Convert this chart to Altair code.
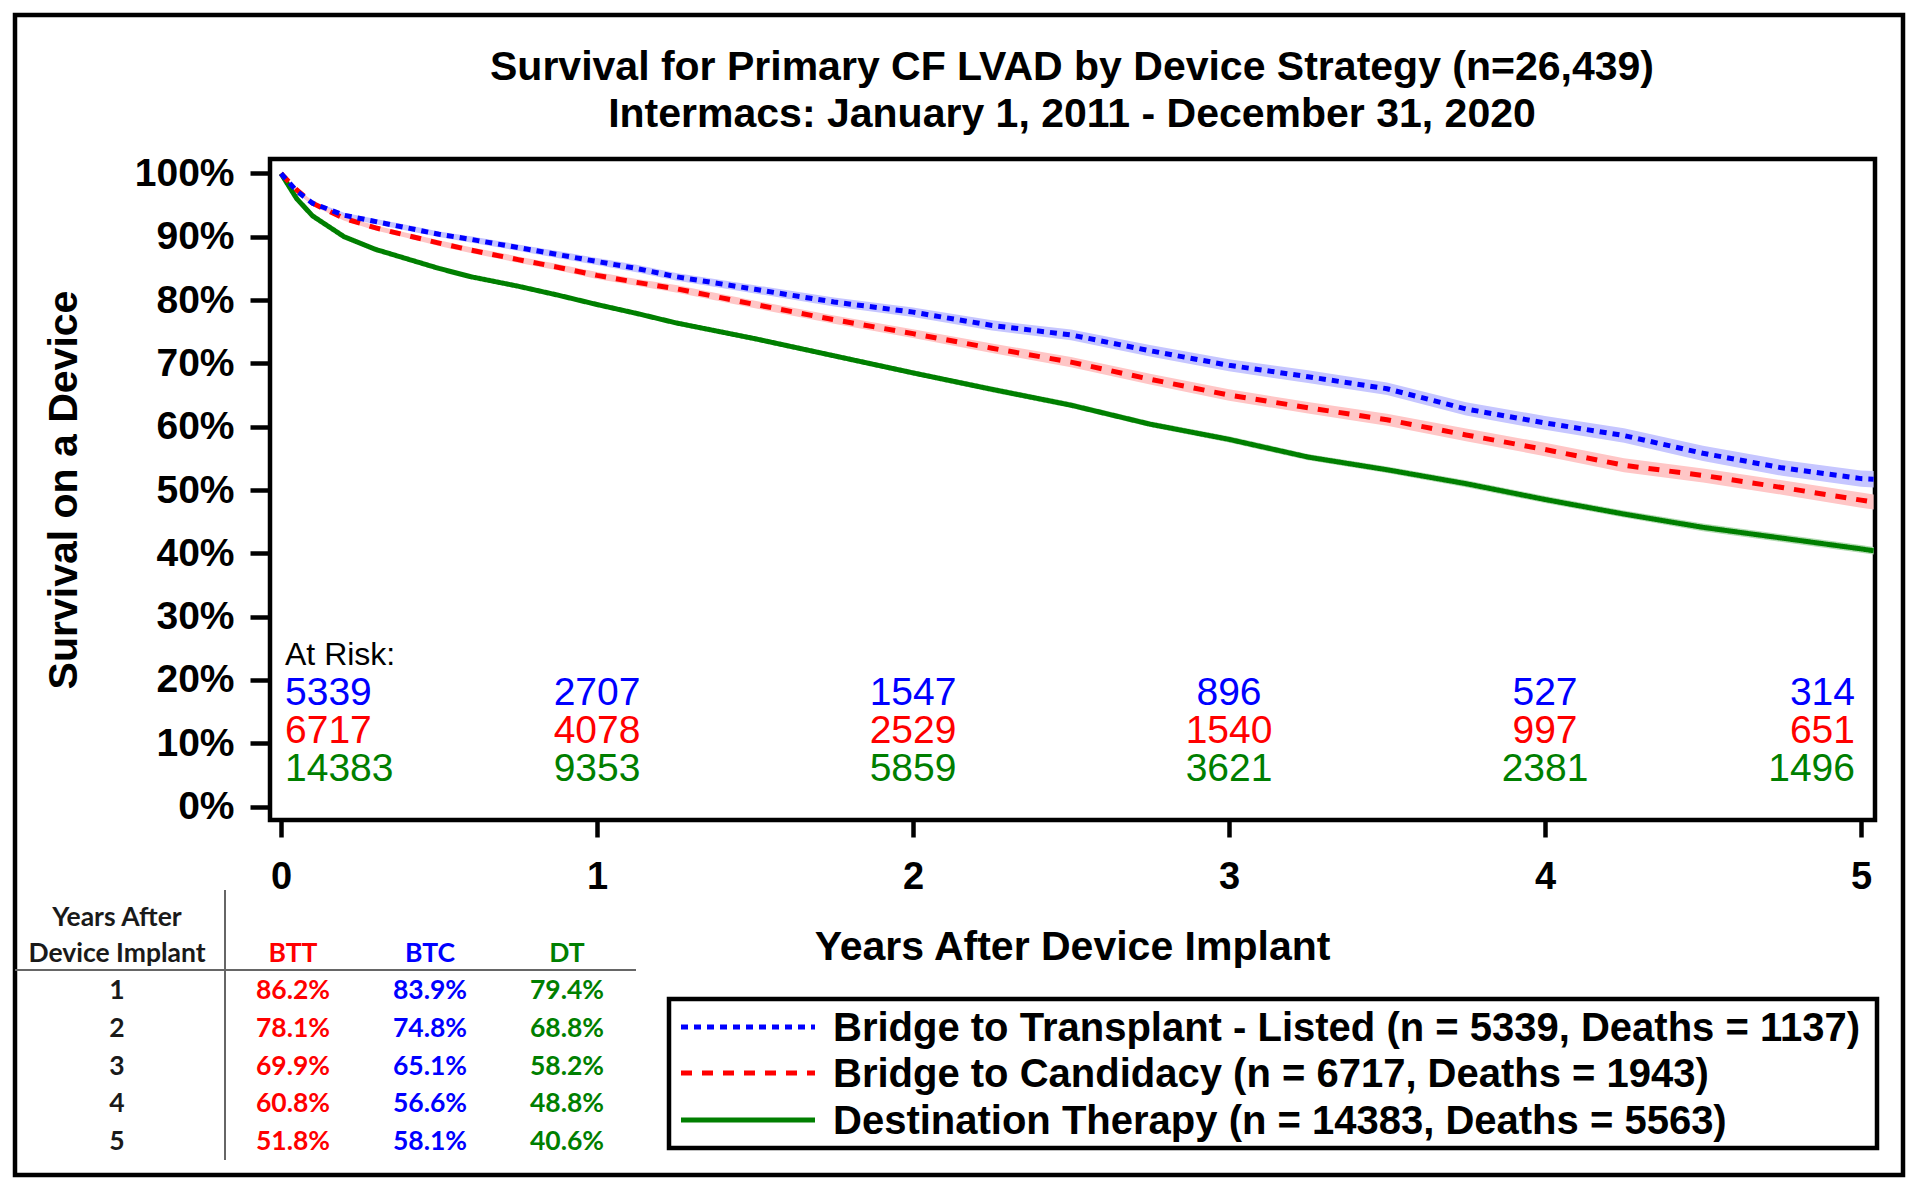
import altair as alt
import pandas as pd

# ---------------- data ----------------
series_names = ["BTT", "BTC", "DT"]
legend_labels = [
    "Bridge to Transplant - Listed (n = 5339, Deaths = 1137)",
    "Bridge to Candidacy (n = 6717, Deaths = 1943)",
    "Destination Therapy (n = 14383, Deaths = 5563)",
]
line_colors = ["#0000FF", "#FF0000", "#007F00"]
band_colors = ["#C6C6FF", "#FFC6C6", "#B3DBB3"]
line_dashes = [[7, 6], [11, 10], [1, 0]]

years = [0, 0.05, 0.1, 0.2, 0.3, 0.4, 0.5, 0.6, 0.75, 0.875, 1.0, 1.125, 1.25, 1.5,
         1.75, 2.0, 2.25, 2.5, 2.75, 3.0, 3.25, 3.5, 3.75, 4.0, 4.25, 4.5, 4.75, 5.0, 5.04]
surv_btt = [100, 97.2, 95.3, 93.4, 92.4, 91.4, 90.4, 89.6, 88.3, 87.2, 86.1, 85.0, 83.7, 81.7,
            79.7, 78.1, 76.0, 74.5, 72.0, 69.7, 67.9, 66.0, 62.8, 60.6, 58.6, 55.8, 53.5, 51.8, 51.7]
surv_btc = [100, 97.4, 95.3, 92.9, 91.4, 90.2, 89.0, 87.9, 86.4, 85.2, 83.9, 82.8, 81.8, 79.3,
            76.9, 74.7, 72.4, 70.2, 67.5, 65.0, 63.0, 61.1, 58.7, 56.4, 53.9, 52.3, 50.4, 48.4, 48.1]
surv_dt = [100, 96.0, 93.3, 90.0, 88.0, 86.5, 85.0, 83.7, 82.2, 80.8, 79.3, 77.9, 76.4, 73.9,
           71.2, 68.5, 65.9, 63.4, 60.4, 58.0, 55.2, 53.2, 51.0, 48.5, 46.2, 44.1, 42.4, 40.7, 40.4]
ci_btt = [0, 0.3, 0.35, 0.4, 0.4, 0.45, 0.45, 0.5, 0.5, 0.55, 0.55, 0.6, 0.6, 0.65, 0.7,
          0.75, 0.8, 0.85, 0.9, 0.95, 1.0, 1.0, 1.05, 1.1, 1.15, 1.2, 1.25, 1.3, 1.3]
ci_btc = [0, 0.3, 0.35, 0.35, 0.4, 0.4, 0.45, 0.45, 0.5, 0.5, 0.55, 0.55, 0.6, 0.6, 0.65,
          0.7, 0.75, 0.8, 0.85, 0.9, 0.9, 0.95, 1.0, 1.05, 1.1, 1.1, 1.15, 1.2, 1.2]
ci_dt = [0, 0.2, 0.2, 0.25, 0.25, 0.25, 0.3, 0.3, 0.3, 0.3, 0.35, 0.35, 0.35, 0.4, 0.4,
         0.4, 0.45, 0.45, 0.45, 0.5, 0.5, 0.5, 0.55, 0.55, 0.55, 0.6, 0.6, 0.6, 0.6]

risk_years = [0, 1, 2, 3, 4, 5]
risk_btt = [5339, 2707, 1547, 896, 527, 314]
risk_btc = [6717, 4078, 2529, 1540, 997, 651]
risk_dt = [14383, 9353, 5859, 3621, 2381, 1496]

table_years = ["1", "2", "3", "4", "5"]
table_heads = ["BTT", "BTC", "DT"]
table_head_colors = ["#FF0000", "#0000FF", "#007F00"]
table_btt = ["86.2%", "78.1%", "69.9%", "60.8%", "51.8%"]
table_btc = ["83.9%", "74.8%", "65.1%", "56.6%", "58.1%"]
table_dt = ["79.4%", "68.8%", "58.2%", "48.8%", "40.6%"]
table_stub = ["Years After", "Device Implant"]

title_lines = ["Survival for Primary CF LVAD by Device Strategy (n=26,439)",
               "Intermacs: January 1, 2011 - December 31, 2020"]
x_title = "Years After Device Implant"
y_title = "Survival on a Device"
at_risk_label = "At Risk:"

# ---------------- layout (page pixels) ----------------
W, H = 1605, 661
PLOT_L, PLOT_T = 270, 159
PAD = {"left": PLOT_L - 8, "top": PLOT_T - 8, "right": 34, "bottom": 358}
X0, XS = 281.0, 316.0      # page x of year 0, px per year
Y0, YS = 806.5, 6.33       # page y of 0 %, px per %
ARIAL = "Liberation Sans"
CALIBRI = "Lato"


def ux(px):
    return (px - X0) / XS


def uy(py):
    return (Y0 - py) / YS


def vx(px):
    return px - PLOT_L


def vy(py):
    return py - PLOT_T


xs = alt.Scale(domain=[ux(PLOT_L), ux(PLOT_L + W)], nice=False, zero=False)
ys = alt.Scale(domain=[uy(PLOT_T + H), uy(PLOT_T)], nice=False, zero=False)
stroke_scale = alt.Scale(domain=series_names, range=line_colors)
dash_scale = alt.Scale(domain=series_names, range=line_dashes)

# ---------------- tables ----------------
rows = []
for name, s, ci, bc in zip(series_names, [surv_btt, surv_btc, surv_dt],
                           [ci_btt, ci_btc, ci_dt], band_colors):
    for t, v, c in zip(years, s, ci):
        rows.append({"series": name, "t": t, "s": v, "lo": v - c, "hi": v + c, "band": bc})
curves = pd.DataFrame(rows)

risk_rows = []
risk_base = [705, 743, 781]
for i, (vals, col) in enumerate(zip([risk_btt, risk_btc, risk_dt], line_colors)):
    for t, n in zip(risk_years, vals):
        risk_rows.append({"t": t, "yv": uy(risk_base[i]), "label": str(n), "color": col})
risk = pd.DataFrame(risk_rows)

tab_rows = []
col_x = [117, 293, 430, 567]
row_base = [999, 1037, 1075, 1112, 1150]
tab_rows.append({"x": ux(col_x[0]), "y": uy(926), "label": table_stub[0], "color": "#1a1a1a"})
tab_rows.append({"x": ux(col_x[0]), "y": uy(962), "label": table_stub[1], "color": "#1a1a1a"})
for j, (h, c) in enumerate(zip(table_heads, table_head_colors)):
    tab_rows.append({"x": ux(col_x[j + 1]), "y": uy(962), "label": h, "color": c})
for i, yr in enumerate(table_years):
    tab_rows.append({"x": ux(col_x[0]), "y": uy(row_base[i]), "label": yr, "color": "#1a1a1a"})
    for j, (vals, c) in enumerate(zip([table_btt, table_btc, table_dt], table_head_colors)):
        tab_rows.append({"x": ux(col_x[j + 1]), "y": uy(row_base[i]), "label": vals[i], "color": c})
table = pd.DataFrame(tab_rows)

leg_sym_y = [1027, 1073, 1120]
leg_txt_y = [1041, 1087, 1134]
legend = pd.DataFrame({
    "series": series_names,
    "label": legend_labels,
    "ys": [uy(v) for v in leg_sym_y],
    "yt": [uy(v) for v in leg_txt_y],
    "x": [ux(833)] * 3,
})
titles = pd.DataFrame({"label": title_lines, "x": [ux(1072)] * 2, "y": [uy(80), uy(127)]})
one = pd.DataFrame({"k": [0]})

# ---------------- axes ----------------
x_axis = alt.Axis(values=risk_years, format="d", grid=False, domain=False,
                  tickSize=17, tickWidth=4.5, tickColor="black",
                  labelFont=ARIAL, labelFontSize=38, labelFontWeight="bold", labelColor="black",
                  labelPadding=21, labelFlush=False, labelOverlap=False,
                  title=x_title, titleFont=ARIAL, titleFontSize=41, titleFontWeight="bold",
                  titleColor="black", titleX=vx(1072), titleY=947 - (PLOT_T + H),
                  titleAlign="center", titleBaseline="middle")
y_axis = alt.Axis(values=list(range(0, 101, 10)), labelExpr="datum.value + '%'",
                  grid=False, domain=False, tickSize=20, tickWidth=4.5, tickColor="black",
                  labelFont=ARIAL, labelFontSize=39, labelFontWeight="bold", labelColor="black",
                  labelPadding=16, labelOverlap=False,
                  title=y_title, titleFont=ARIAL, titleFontSize=41, titleFontWeight="bold",
                  titleColor="black", titleAngle=270, titleX=vx(64), titleY=H / 2,
                  titleAlign="center", titleBaseline="middle")


def X(field):
    return alt.X(field, scale=xs, axis=x_axis)


def Y(field):
    return alt.Y(field, scale=ys, axis=y_axis)


layers = []

# outer frame
layers.append(alt.Chart(one).mark_rect(filled=False, stroke="black", strokeWidth=4.5).encode(
    x=alt.value(vx(15)), x2=alt.value(vx(1903)), y=alt.value(vy(15)), y2=alt.value(vy(1175))))

# title
layers.append(alt.Chart(titles).mark_text(align="center", baseline="alphabetic", font=ARIAL,
                                          fontSize=41, fontWeight="bold", color="black").encode(
    x=X("x:Q"), y=Y("y:Q"), text="label:N"))

# confidence bands
for name in series_names:
    base = alt.Chart(curves).transform_filter(alt.datum.series == name)
    layers.append(base.mark_area(opacity=1).encode(
        x=X("t:Q"), y=Y("lo:Q"), y2="hi:Q",
        fill=alt.Fill("band:N", scale=None),
    ))

# survival lines (green first, blue on top)
for name in ["DT", "BTC", "BTT"]:
    base = alt.Chart(curves).transform_filter(alt.datum.series == name)
    layers.append(base.mark_line(strokeWidth=5, strokeCap="butt", interpolate="linear").encode(
        x=X("t:Q"), y=Y("s:Q"),
        stroke=alt.Stroke("series:N", scale=stroke_scale, legend=None),
        strokeDash=alt.StrokeDash("series:N", scale=dash_scale, legend=None),
    ))

# at-risk numbers
layers.append(alt.Chart(one).mark_text(align="left", baseline="alphabetic", font=ARIAL,
                                       fontSize=32, color="black", text=at_risk_label).encode(
    x=X("v:Q"), y=Y("w:Q")
).transform_calculate(v=str(ux(285)), w=str(uy(665))))
for cond, align, dx in [("datum.t == 0", "left", 4),
                        ("datum.t > 0 && datum.t < 5", "center", 0),
                        ("datum.t == 5", "right", -6)]:
    layers.append(alt.Chart(risk).transform_filter(cond).mark_text(
        align=align, baseline="alphabetic", dx=dx, font=ARIAL, fontSize=39).encode(
        x=X("t:Q"), y=Y("yv:Q"),
        text="label:N",
        fill=alt.Fill("color:N", scale=None),
    ))

# summary table
layers.append(alt.Chart(one).mark_rule(color="#666666", strokeWidth=2).encode(
    x=alt.value(vx(225)), y=alt.value(vy(890)), y2=alt.value(vy(1160))))
layers.append(alt.Chart(one).mark_rule(color="#666666", strokeWidth=2).encode(
    x=alt.value(vx(15)), x2=alt.value(vx(636)), y=alt.value(vy(970))))
layers.append(alt.Chart(table).mark_text(align="center", baseline="alphabetic", font=CALIBRI,
                                         fontSize=26.5, fontWeight="bold").encode(
    x=X("x:Q"), y=Y("y:Q"),
    text="label:N",
    fill=alt.Fill("color:N", scale=None),
))

# legend
layers.append(alt.Chart(one).mark_rect(fill="white", stroke="black", strokeWidth=4.5).encode(
    x=alt.value(vx(669)), x2=alt.value(vx(1877)), y=alt.value(vy(999)), y2=alt.value(vy(1148))))
layers.append(alt.Chart(legend).mark_rule(strokeWidth=5, strokeCap="butt").encode(
    x=alt.value(vx(681)), x2=alt.value(vx(815)),
    y=Y("ys:Q"),
    stroke=alt.Stroke("series:N", scale=stroke_scale, legend=None),
    strokeDash=alt.StrokeDash("series:N", scale=dash_scale, legend=None),
))
layers.append(alt.Chart(legend).mark_text(align="left", baseline="alphabetic", font=ARIAL,
                                          fontSize=40, fontWeight="bold", color="black").encode(
    x=X("x:Q"), y=Y("yt:Q"),
    text="label:N",
))

chart = alt.layer(*layers).properties(
    width=W, height=H,
    autosize=alt.AutoSizeParams(type="none"),
    padding=PAD,
    background="white",
).configure_view(stroke="black", strokeWidth=4.5)

chart.save("out.html", embed_options={"renderer": "svg", "actions": False})
